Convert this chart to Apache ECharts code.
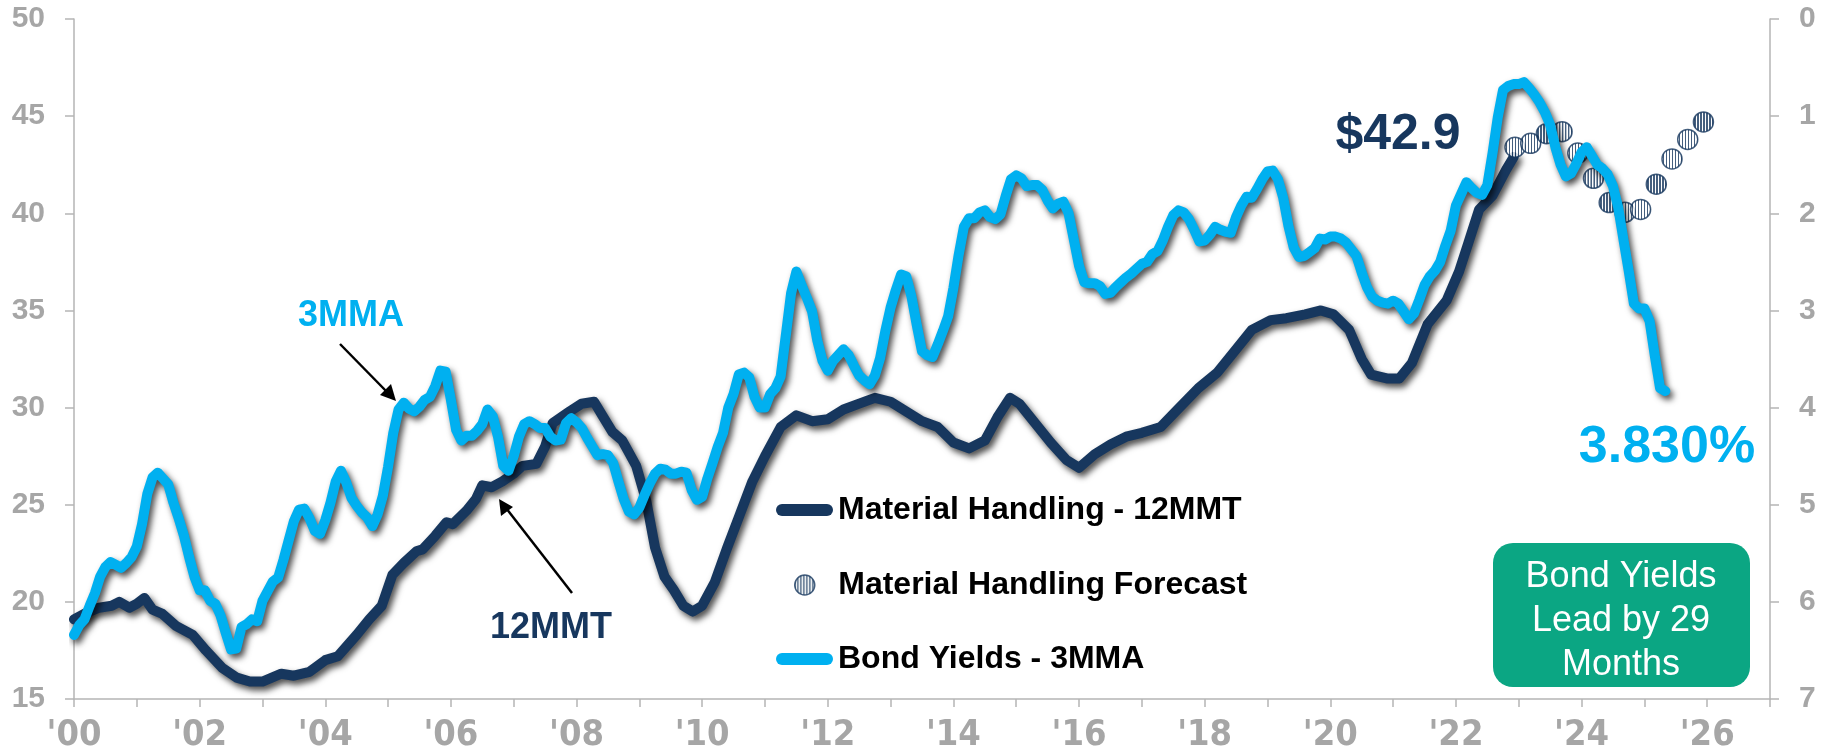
<!DOCTYPE html>
<html><head><meta charset="utf-8">
<script src="https://cdn.jsdelivr.net/npm/echarts@6/dist/echarts.min.js"></script>
<style>html,body{margin:0;padding:0;background:#fff}#c{width:1837px;height:754px}</style>
</head><body><div id="c"></div>
<script>
// ---------- DATA ----------
// Material Handling - 12MMT (left axis), [year, value]
const mhYears = [2000.00,2000.17,2000.40,2000.60,2000.72,2000.88,2001.00,2001.12,2001.25,2001.40,2001.63,2001.89,2002.10,2002.36,2002.59,2002.80,2003.00,2003.15,2003.30,2003.50,2003.75,2004.00,2004.20,2004.50,2004.70,2004.90,2005.07,2005.25,2005.45,2005.55,2005.75,2005.93,2006.03,2006.25,2006.40,2006.50,2006.65,2006.82,2007.00,2007.14,2007.36,2007.50,2007.62,2007.89,2008.08,2008.28,2008.41,2008.57,2008.73,2008.95,2009.11,2009.25,2009.40,2009.55,2009.70,2009.85,2010.00,2010.20,2010.40,2010.60,2010.80,2011.00,2011.25,2011.50,2011.75,2012.00,2012.25,2012.50,2012.75,2013.00,2013.25,2013.50,2013.75,2014.00,2014.25,2014.50,2014.70,2014.90,2015.05,2015.30,2015.55,2015.80,2016.00,2016.25,2016.50,2016.75,2017.00,2017.30,2017.60,2017.90,2018.20,2018.50,2018.75,2019.05,2019.30,2019.60,2019.85,2020.05,2020.30,2020.50,2020.65,2020.90,2021.10,2021.30,2021.55,2021.85,2022.05,2022.20,2022.37,2022.58,2022.80,2022.92];
const mhValues = [19.1,19.4,19.7,19.8,20.0,19.7,19.9,20.2,19.6,19.4,18.75,18.3,17.5,16.6,16.1,15.9,15.9,16.1,16.3,16.2,16.4,17.0,17.2,18.3,19.1,19.8,21.4,22.0,22.6,22.7,23.4,24.1,24.0,24.7,25.3,26.0,25.9,26.2,26.6,27.0,27.1,28.0,29.2,29.8,30.2,30.3,29.6,28.75,28.3,27.0,25.2,22.8,21.3,20.6,19.8,19.5,19.8,21.0,22.8,24.5,26.2,27.5,29.0,29.6,29.3,29.4,29.9,30.2,30.5,30.3,29.8,29.3,29.0,28.2,27.9,28.3,29.5,30.5,30.2,29.2,28.2,27.3,26.9,27.6,28.1,28.5,28.7,29.0,30.0,31.0,31.8,33.0,34.0,34.5,34.6,34.8,35.0,34.8,34.0,32.5,31.7,31.5,31.5,32.3,34.3,35.5,37.0,38.5,40.2,40.9,42.25,42.9];

// Material Handling Forecast (quarterly)
const fcYears = [2022.94,2023.19,2023.44,2023.69,2023.94,2024.19,2024.44,2024.69,2024.94,2025.19,2025.44,2025.69,2025.94];
const fcValues = [43.4,43.6,44.1,44.2,43.1,41.8,40.55,40.05,40.2,41.5,42.8,43.8,44.7];

// Bond Yields - 3MMA (right axis, %, inverted), monthly, plotted from Jan 2000 (lead 29 months)
const bondStartYear = 2000;
const bondYield3MMA = [
6.34,6.24,6.18,6.04,5.91,
5.74,5.64,5.59,5.62,5.65,5.60,5.54,5.43,5.20,4.89,4.72,4.67,
4.73,4.79,4.98,5.14,5.32,5.54,5.74,5.88,5.88,5.99,6.02,6.14,
6.32,6.49,6.48,6.26,6.23,6.18,6.20,5.99,5.89,5.79,5.75,5.57,
5.37,5.17,5.05,5.04,5.14,5.27,5.30,5.16,4.98,4.76,4.65,4.77,
4.93,5.01,5.08,5.13,5.22,5.10,4.91,4.61,4.26,4.02,3.95,4.01,
4.04,3.99,3.92,3.89,3.78,3.62,3.63,3.92,4.23,4.34,4.29,4.29,
4.24,4.17,4.02,4.09,4.30,4.60,4.65,4.50,4.30,4.17,4.14,4.17,
4.21,4.21,4.30,4.34,4.33,4.16,4.11,4.15,4.21,4.31,4.40,4.49,
4.48,4.49,4.57,4.76,4.94,5.07,5.10,5.03,4.90,4.78,4.68,4.63,
4.64,4.68,4.68,4.66,4.67,4.85,4.95,4.92,4.73,4.57,4.40,4.26,
4.00,3.86,3.66,3.64,3.69,3.89,4.00,4.00,3.86,3.80,3.68,3.25,
2.82,2.60,2.74,2.87,3.01,3.31,3.52,3.62,3.52,3.46,3.40,3.46,
3.57,3.67,3.72,3.76,3.67,3.49,3.21,2.97,2.79,2.63,2.65,2.86,
3.15,3.42,3.46,3.48,3.35,3.21,3.06,2.77,2.43,2.14,2.05,2.05,
1.99,1.97,2.04,2.06,2.01,1.82,1.65,1.61,1.64,1.72,1.71,1.71,
1.76,1.87,1.95,1.90,1.88,2.00,2.27,2.54,2.71,2.72,2.72,2.75,
2.83,2.82,2.76,2.71,2.66,2.62,2.57,2.52,2.50,2.42,2.39,2.28,
2.14,2.02,1.97,1.99,2.06,2.17,2.29,2.28,2.22,2.14,2.17,2.19,
2.20,2.04,1.92,1.83,1.84,1.75,1.65,1.57,1.56,1.65,1.84,2.13,
2.35,2.45,2.44,2.40,2.36,2.26,2.27,2.24,2.24,2.26,2.30,2.37,
2.44,2.61,2.76,2.86,2.90,2.92,2.93,2.90,2.93,3.01,3.09,3.03,
2.89,2.74,2.65,2.59,2.50,2.33,2.18,1.92,1.80,1.68,1.74,1.79,
1.81,1.71,1.38,1.01,0.73,0.69,0.67,0.67,0.65,0.71,0.78,0.86,
0.96,1.09,1.32,1.50,1.62,1.59,1.49,1.37,1.32,1.41,1.50,1.54,
1.60,1.72,1.94,2.27,2.59,2.93,2.98,2.98,3.11,3.47,3.80,3.83];

// Axis ranges / ticks
const xMin = 2000, xMax = 2027, xStep = 1;
const leftMin = 15, leftMax = 50, leftStep = 5;
const rightMin = 0, rightMax = 7, rightStep = 1;

const seriesNames = ['Material Handling - 12MMT', 'Material Handling Forecast', 'Bond Yields - 3MMA'];
const labels = { mhLast: '$42.9', bondLast: '3.830%', bondTag: '3MMA', mhTag: '12MMT', box: 'Bond Yields\nLead by 29\nMonths' };

// ---------- STYLE ----------
const NAVY = '#17375e', BLUE = '#00b0f0', GRAY = '#a6a6a6', AXIS = '#b5b5b5', GREEN = '#0ba683';
const FONT = "'Liberation Sans', Arial, sans-serif";
const NARROW = "'Liberation Sans Narrow', 'Arial Narrow', 'DejaVu Sans Condensed', sans-serif";

// vertical-stripe tile, 3px period at magnification k
function stripe(k) {
  const c = document.createElement('canvas');
  c.width = 3 * k; c.height = 3 * k;
  const g = c.getContext('2d');
  g.fillStyle = '#ffffff'; g.fillRect(0, 0, 3 * k, 3 * k);
  g.fillStyle = NAVY; g.fillRect(0, 0, 1.4 * k, 3 * k);
  return c;
}
const FC_SIZE = 20;
// scatter symbols are drawn in unit space and scaled by size/2, so the tile is shrunk to compensate
const patternSeries = { image: stripe(10), repeat: 'repeat', scaleX: 0.1 / (FC_SIZE / 2), scaleY: 0.1 / (FC_SIZE / 2) };
const patternLegend = { image: stripe(1), repeat: 'repeat' };

const mhData = mhYears.map((x, i) => [x, mhValues[i]]);
const fcData = fcYears.map((x, i) => [x, fcValues[i]]);
const bondData = bondYield3MMA.map((v, i) => [bondStartYear + i / 12, v]);

const shadow = { shadowColor: 'rgba(0,0,0,0.7)', shadowBlur: 6, shadowOffsetX: 3, shadowOffsetY: 4 };
const pill = 'path://M6 0H51A6 6 0 0 1 51 12H6A6 6 0 0 1 6 0Z';
const legendText = { fontSize: 32, fontWeight: 'bold', color: '#000', fontFamily: FONT };

const chart = echarts.init(document.getElementById('c'), null, { renderer: 'canvas' });
chart.setOption({
  animation: false,
  backgroundColor: '#fff',
  grid: { left: 74, right: 67, top: 19, bottom: 53 },
  xAxis: {
    type: 'value', min: xMin, max: xMax, interval: xStep,
    axisLine: { show: true, onZero: false, lineStyle: { color: AXIS, width: 1.5 } },
    axisTick: { show: true, length: 8, lineStyle: { color: AXIS, width: 1.5 } },
    splitLine: { show: false },
    axisLabel: {
      margin: 19, color: GRAY, fontSize: 36, fontWeight: 'bold', fontFamily: NARROW,
      formatter: v => { const y = Math.round(v); return y % 2 === 0 ? "'" + String(y % 100).padStart(2, '0') : ''; }
    }
  },
  yAxis: [
    {
      type: 'value', min: leftMin, max: leftMax, interval: leftStep, position: 'left',
      axisLine: { show: true, lineStyle: { color: AXIS, width: 1.5 } },
      axisTick: { show: true, length: 9, lineStyle: { color: AXIS, width: 1.5 } },
      splitLine: { show: false },
      axisLabel: { margin: 29, color: GRAY, fontSize: 30, fontWeight: 'bold', fontFamily: FONT }
    },
    {
      type: 'value', min: rightMin, max: rightMax, interval: rightStep, position: 'right', inverse: true,
      axisLine: { show: true, lineStyle: { color: AXIS, width: 1.5 } },
      axisTick: { show: true, length: 9, lineStyle: { color: AXIS, width: 1.5 } },
      splitLine: { show: false },
      axisLabel: { margin: 29, color: GRAY, fontSize: 30, fontWeight: 'bold', fontFamily: FONT }
    }
  ],
  legend: [
    { data: [{ name: seriesNames[0], icon: pill, itemStyle: { color: NAVY, borderWidth: 0 } }],
      left: 776, top: 494, padding: 0, itemWidth: 57, itemHeight: 12, selectedMode: false, textStyle: legendText },
    { data: [{ name: seriesNames[1], icon: 'circle', itemStyle: { color: patternLegend, borderColor: NAVY, borderWidth: 1.5 } }],
      left: 794, top: 569, padding: 0, itemWidth: 57, itemHeight: 20, selectedMode: false, textStyle: legendText },
    { data: [{ name: seriesNames[2], icon: pill, itemStyle: { color: BLUE, borderWidth: 0 } }],
      left: 776, top: 643, padding: 0, itemWidth: 57, itemHeight: 12, selectedMode: false, textStyle: legendText }
  ],
  series: [
    { name: seriesNames[0], type: 'line', yAxisIndex: 0, data: mhData, showSymbol: false, symbol: 'none',
      lineStyle: Object.assign({ color: NAVY, width: 10, cap: 'round', join: 'round' }, shadow),
      itemStyle: { color: NAVY }, z: 2 },
    { name: seriesNames[1], type: 'scatter', yAxisIndex: 0, data: fcData, symbol: 'circle', symbolSize: FC_SIZE,
      itemStyle: { color: patternSeries, borderColor: NAVY, borderWidth: 1.5 }, z: 3 },
    { name: seriesNames[2], type: 'line', yAxisIndex: 1, data: bondData, showSymbol: false, symbol: 'none',
      lineStyle: Object.assign({ color: BLUE, width: 10, cap: 'round', join: 'round' }, shadow),
      itemStyle: { color: BLUE }, z: 4 }
  ],
  graphic: [
    { type: 'text', x: 1398, y: 135, z: 10, style: { text: labels.mhLast, fill: NAVY, font: "bold 50px " + FONT, align: 'center', verticalAlign: 'middle' } },
    { type: 'text', x: 1667, y: 448, z: 10, style: { text: labels.bondLast, fill: BLUE, font: "bold 52px " + FONT, align: 'center', verticalAlign: 'middle' } },
    { type: 'text', x: 351, y: 316, z: 10, style: { text: labels.bondTag, fill: BLUE, font: "bold 36px " + FONT, align: 'center', verticalAlign: 'middle' } },
    { type: 'text', x: 551, y: 628, z: 10, style: { text: labels.mhTag, fill: NAVY, font: "bold 36px " + FONT, align: 'center', verticalAlign: 'middle' } },
    { type: 'line', z: 10, shape: { x1: 340, y1: 344, x2: 388, y2: 393 }, style: { stroke: '#000', lineWidth: 2.5 } },
    { type: 'polygon', z: 10, shape: { points: [[396, 401], [380, 395], [391, 384]] }, style: { fill: '#000' } },
    { type: 'line', z: 10, shape: { x1: 572, y1: 593, x2: 506, y2: 508 }, style: { stroke: '#000', lineWidth: 2.5 } },
    { type: 'polygon', z: 10, shape: { points: [[499, 499], [501, 516], [513, 507]] }, style: { fill: '#000' } },
    { type: 'rect', z: 10, shape: { x: 1493, y: 543, width: 257, height: 144, r: 20 }, style: { fill: GREEN } },
    { type: 'text', x: 1621, y: 621, z: 11, style: { text: labels.box, fill: '#fff', font: "36px " + FONT, align: 'center', verticalAlign: 'middle', lineHeight: 44 } }
  ]
});
</script></body></html>
